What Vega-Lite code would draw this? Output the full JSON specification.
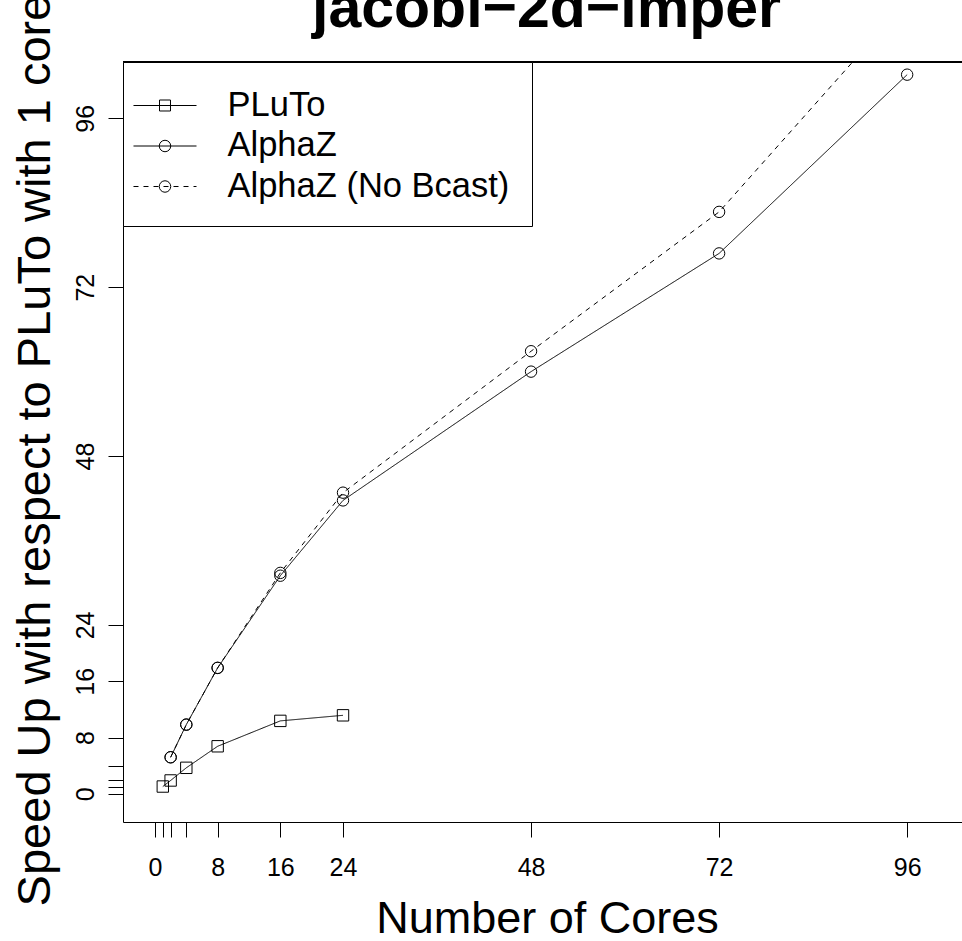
{
  "$schema": "https://vega.github.io/schema/vega-lite/v6.json",
  "autosize": {"type": "none"},
  "width": 839,
  "height": 760,
  "padding": {"left": 123, "top": 62, "right": 0, "bottom": 119},
  "background": "white",
  "title": {
    "text": "jacobi−2d−imper",
    "font": "Liberation Sans",
    "fontSize": 59,
    "fontWeight": "bold",
    "color": "black",
    "anchor": "middle",
    "baseline": "alphabetic",
    "offset": 0,
    "dy": 92,
    "dx": 4
  },
  "config": {
    "view": {"stroke": null},
    "axis": {
      "grid": false,
      "domainColor": "black",
      "domainWidth": 1,
      "tickColor": "black",
      "tickWidth": 1,
      "tickSize": 15,
      "labelFont": "Liberation Sans",
      "labelFontSize": 25,
      "labelColor": "black",
      "titleFont": "Liberation Sans",
      "titleFontWeight": "normal",
      "titleColor": "black",
      "labelOverlap": false,
      "labelFlush": false
    }
  },
  "data": {
    "values": [
      {"series": "PLuTo", "cores": 1, "speedup": 1.04},
      {"series": "PLuTo", "cores": 2, "speedup": 1.9},
      {"series": "PLuTo", "cores": 4, "speedup": 3.7},
      {"series": "PLuTo", "cores": 8, "speedup": 6.76},
      {"series": "PLuTo", "cores": 16, "speedup": 10.37},
      {"series": "PLuTo", "cores": 24, "speedup": 11.16},
      {"series": "AlphaZ", "cores": 2, "speedup": 5.2},
      {"series": "AlphaZ", "cores": 4, "speedup": 9.84},
      {"series": "AlphaZ", "cores": 8, "speedup": 17.9},
      {"series": "AlphaZ", "cores": 16, "speedup": 31.0},
      {"series": "AlphaZ", "cores": 24, "speedup": 41.7},
      {"series": "AlphaZ", "cores": 48, "speedup": 60.0},
      {"series": "AlphaZ", "cores": 72, "speedup": 76.8},
      {"series": "AlphaZ", "cores": 96, "speedup": 102.2},
      {"series": "AlphaZ (No Bcast)", "cores": 2, "speedup": 5.2},
      {"series": "AlphaZ (No Bcast)", "cores": 4, "speedup": 9.84},
      {"series": "AlphaZ (No Bcast)", "cores": 8, "speedup": 17.9},
      {"series": "AlphaZ (No Bcast)", "cores": 16, "speedup": 31.4},
      {"series": "AlphaZ (No Bcast)", "cores": 24, "speedup": 42.8},
      {"series": "AlphaZ (No Bcast)", "cores": 48, "speedup": 62.9},
      {"series": "AlphaZ (No Bcast)", "cores": 72, "speedup": 82.7},
      {"series": "AlphaZ (No Bcast)", "cores": 96, "speedup": 112.7}
    ]
  },
  "encoding": {
    "x": {
      "field": "cores",
      "type": "quantitative",
      "scale": {"domain": [-4.08, 103], "nice": false, "zero": false},
      "axis": {
        "title": "Number of Cores",
        "titleFontSize": 45,
        "values": [0, 1, 2, 4, 8, 16, 24, 48, 72, 96],
        "labelExpr": "datum.value == 1 || datum.value == 2 || datum.value == 4 ? '' : datum.label",
        "labelPadding": 18,
        "titleX": 424,
        "titleY": 110,
        "titleBaseline": "alphabetic",
        "titleAlign": "center"
      }
    },
    "y": {
      "field": "speedup",
      "type": "quantitative",
      "scale": {"domain": [-4, 104], "nice": false, "zero": false},
      "axis": {
        "title": "Speed Up with respect to PLuTo with 1 core",
        "titleFontSize": 47,
        "values": [0, 1, 2, 4, 8, 16, 24, 48, 72, 96],
        "labelExpr": "datum.value == 1 || datum.value == 2 || datum.value == 4 ? '' : datum.label",
        "labelAngle": -90,
        "labelAlign": "center",
        "labelBaseline": "bottom",
        "labelPadding": 10,
        "titleAngle": -90,
        "titleX": -74,
        "titleY": 388,
        "titleBaseline": "alphabetic",
        "titleAlign": "center"
      }
    }
  },
  "layer": [
    {
      "mark": {"type": "rule", "color": "black", "strokeWidth": 1},
      "encoding": {"x": null, "y": {"datum": 104}}
    },
    {
      "mark": {"type": "line", "color": "black", "strokeWidth": 1, "clip": true},
      "encoding": {
        "detail": {"field": "series"},
        "strokeDash": {
          "field": "series",
          "type": "nominal",
          "scale": {"domain": ["PLuTo", "AlphaZ", "AlphaZ (No Bcast)"], "range": [[1, 0], [1, 0], [5, 5]]},
          "legend": null
        }
      }
    },
    {
      "mark": {"type": "point", "filled": false, "color": "black", "strokeWidth": 1, "size": 130, "clip": true, "opacity": 1},
      "encoding": {
        "shape": {
          "field": "series",
          "type": "nominal",
          "scale": {"domain": ["PLuTo", "AlphaZ", "AlphaZ (No Bcast)"], "range": ["square", "circle", "circle"]},
          "legend": null
        }
      }
    },
    {
      "transform": [{"filter": "false"}],
      "mark": {"type": "point", "filled": false, "color": "black", "strokeWidth": 1, "size": 1681, "opacity": 1},
      "encoding": {
        "shape": {
          "field": "series",
          "type": "nominal",
          "scale": {
            "domain": ["PLuTo", "AlphaZ", "AlphaZ (No Bcast)"],
            "range": [
              "M-1.537,0L1.537,0M-0.268,-0.268L0.268,-0.268L0.268,0.268L-0.268,0.268Z",
              "M-1.537,0L1.537,0M0.28,0A0.28,0.28,0,1,1,-0.28,0A0.28,0.28,0,1,1,0.28,0Z",
              "M-1.537,0L-1.293,0M-1.049,0L-0.805,0M-0.561,0L-0.317,0M-0.073,0L0.171,0M0.415,0L0.659,0M0.903,0L1.147,0M1.391,0L1.537,0M0.28,0A0.28,0.28,0,1,1,-0.28,0A0.28,0.28,0,1,1,0.28,0Z"
            ]
          },
          "legend": {
            "title": null,
            "orient": "none",
            "legendX": 0,
            "legendY": 0,
            "strokeColor": "black",
            "fillColor": "white",
            "padding": 22.5,
            "cornerRadius": 0,
            "labelFont": "Liberation Sans",
            "labelFontSize": 34.5,
            "labelColor": "black",
            "labelOffset": 41.5,
            "labelLimit": 600,
            "rowPadding": 2.5,
            "symbolSize": 1681,
            "symbolOffset": -1.5,
            "symbolStrokeWidth": 1,
            "symbolStrokeColor": "black",
            "symbolFillColor": "transparent",
            "symbolOpacity": 1
          }
        }
      }
    }
  ],
  "resolve": {"scale": {"shape": "independent", "strokeDash": "independent"}, "legend": {"shape": "independent"}}
}
